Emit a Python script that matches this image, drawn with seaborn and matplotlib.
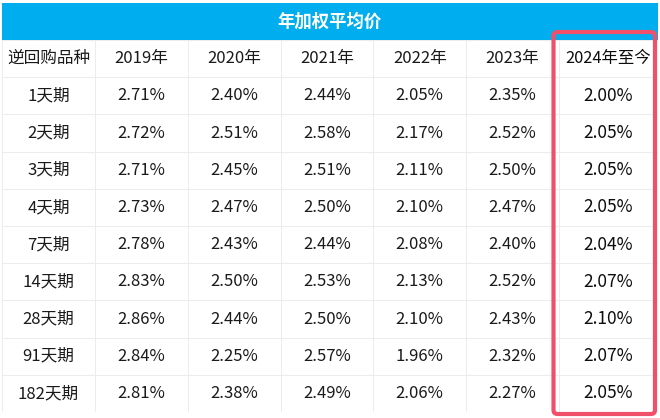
import numpy as np
import pandas as pd
import seaborn as sns
import matplotlib.pyplot as plt
from matplotlib.colors import ListedColormap
from matplotlib.patches import FancyBboxPatch

title = "年加权平均价"
row_header = "逆回购品种"
products = ["1天期", "2天期", "3天期", "4天期", "7天期", "14天期", "28天期", "91天期", "182天期"]
years = ["2019年", "2020年", "2021年", "2022年", "2023年"]
latest_label = "2024年至今"

y2019 = [2.71, 2.72, 2.71, 2.73, 2.78, 2.83, 2.86, 2.84, 2.81]
y2020 = [2.40, 2.51, 2.45, 2.47, 2.43, 2.50, 2.44, 2.25, 2.38]
y2021 = [2.44, 2.58, 2.51, 2.50, 2.44, 2.53, 2.50, 2.57, 2.49]
y2022 = [2.05, 2.17, 2.11, 2.10, 2.08, 2.13, 2.10, 1.96, 2.06]
y2023 = [2.35, 2.52, 2.50, 2.47, 2.40, 2.52, 2.43, 2.32, 2.27]
y2024 = [2.00, 2.05, 2.05, 2.05, 2.04, 2.07, 2.10, 2.07, 2.05]

sns.set_theme(style="white")
plt.rcParams['font.family'] = ['Noto Sans CJK SC', 'DejaVu Sans']

W, H = 660, 418
fig = plt.figure(figsize=(W / 100, H / 100), dpi=100)
fig.patch.set_facecolor("white")


def px_axes(x0, y0, x1, y1):
    # pixel box (top-left origin) -> figure axes
    return fig.add_axes([x0 / W, 1 - y1 / H, (x1 - x0) / W, (y1 - y0) / H])


# main table: header row + 9 product rows, label column + 5 year columns
vals = pd.DataFrame({"2019年": y2019, "2020年": y2020, "2021年": y2021,
                     "2022年": y2022, "2023年": y2023}, index=products)
annot = [[row_header] + years]
for p in products:
    annot.append([p] + [f"{v:.2f}%" for v in vals.loc[p]])
annot = np.array(annot)
grid = np.zeros(annot.shape)

white = ListedColormap(["white"])
grid_col = "#ececec"

ax = px_axes(2, 40, 559, 412)
sns.heatmap(grid, ax=ax, cmap=white, cbar=False, annot=annot, fmt="",
            linewidths=0.6, linecolor=grid_col,
            annot_kws={"fontsize": 12, "color": "#1a1a1a"})
ax.set_xticks([])
ax.set_yticks([])

# latest column, highlighted
annot2 = np.array([[latest_label]] + [[f"{v:.2f}%"] for v in y2024])
ax2 = px_axes(559, 40, 658, 412)
sns.heatmap(np.zeros(annot2.shape), ax=ax2, cmap=white, cbar=False, annot=annot2, fmt="",
            linewidths=0.6, linecolor=grid_col,
            annot_kws={"fontsize": 12.5, "color": "#0d0d0d", "fontweight": "medium"})
ax2.texts[0].set_fontsize(11.8)
ax2.set_xticks([])
ax2.set_yticks([])

# title band
axt = px_axes(2, 3, 658, 40)
axt.set_facecolor("#00aeef")
axt.set_xticks([])
axt.set_yticks([])
for s in axt.spines.values():
    s.set_visible(False)
axt.text(0.5, 0.5, title, color="white", fontsize=12.5, fontweight="bold",
         ha="center", va="center", transform=axt.transAxes)

# red highlight frame
box = FancyBboxPatch((553.5 / 100, (H - 414) / 100), (655 - 553.5) / 100, (414 - 32) / 100,
                     boxstyle="round,pad=0,rounding_size=0.04",
                     transform=fig.dpi_scale_trans, fill=False,
                     edgecolor="#f0506a", linewidth=3)
fig.patches.append(box)

fig.savefig("out.png", dpi=100, facecolor="white")
